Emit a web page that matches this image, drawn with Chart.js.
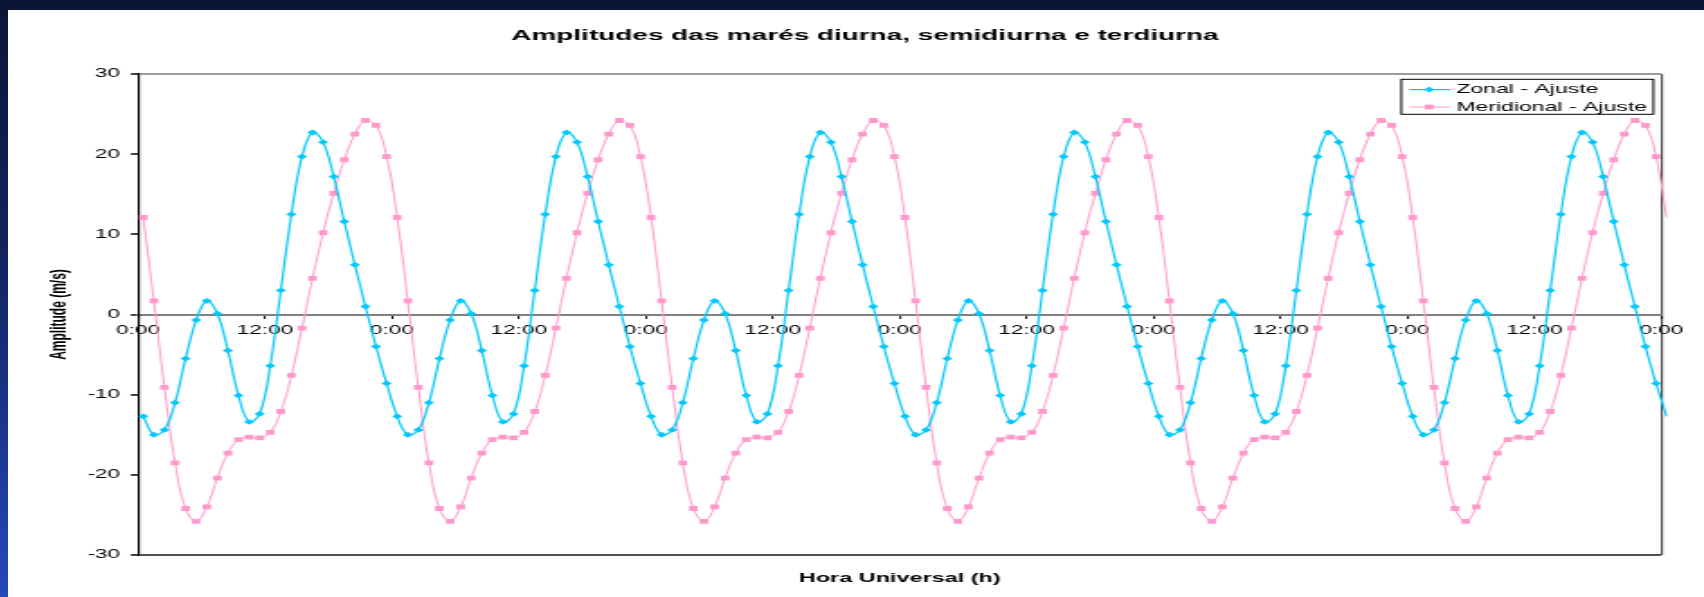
<!DOCTYPE html>
<html>
<head>
<meta charset="utf-8">
<script src="https://cdn.jsdelivr.net/npm/chart.js@4.4.1/dist/chart.umd.min.js"></script>
<style>
  html, body { margin: 0; padding: 0; }
  body {
    width: 1704px; height: 597px; overflow: hidden; position: relative;
    background: linear-gradient(to bottom, #0b1535 0%, #132463 45%, #2449bb 100%);
  }
  /* o gráfico original foi esticado na horizontal dentro do slide */
  #slide { position: absolute; left: 8px; top: 10px; width: 1696px; height: 587px; background: #fff; overflow: hidden; }
  #chart { position: absolute; left: 0; top: 0; transform: scaleX(1.80042); transform-origin: 0 0; }
</style>
</head>
<body>
<div id="slide"><canvas id="chart" width="942" height="587"></canvas></div>
<script>
/* ============================================
   Amplitudes das marés (ajuste) — Chart.js
   ============================================ */

const TITLE = 'Amplitudes das marés diurna, semidiurna e terdiurna';
const X_TITLE = 'Hora Universal (h)';
const Y_TITLE = 'Amplitude (m/s)';
const SERIES_NAMES = ['Zonal - Ajuste', 'Meridional - Ajuste'];

// horário de cada amostra dentro do dia (h)
const SAMPLE_HOURS = [0.5, 1.5, 2.5, 3.5, 4.5, 5.5, 6.5, 7.5, 8.5, 9.5, 10.5, 11.5,
                      12.5, 13.5, 14.5, 15.5, 16.5, 17.5, 18.5, 19.5, 20.5, 21.5, 22.5, 23.5];

// um dia de ajuste (m/s), repetido para cada dia do gráfico
const ZONAL_DAY = [-12.7, -15.0, -14.4, -11.0, -5.5, -0.7, 1.7, 0.1, -4.5, -10.1, -13.4, -12.4,
                   -6.4, 3.0, 12.5, 19.7, 22.7, 21.5, 17.2, 11.6, 6.2, 1.0, -4.0, -8.6];
const MERIDIONAL_DAY = [12.1, 1.7, -9.1, -18.5, -24.2, -25.8, -24.0, -20.4, -17.3, -15.6, -15.3, -15.4,
                        -14.7, -12.1, -7.6, -1.7, 4.5, 10.2, 15.1, 19.3, 22.5, 24.2, 23.6, 19.7];
const N_DAYS = 6;

const X_TICK_LABELS = ['0:00', '12:00', '0:00', '12:00', '0:00', '12:00', '0:00',
                       '12:00', '0:00', '12:00', '0:00', '12:00', '0:00'];

const CYAN = '#00c8fa';
const PINK = '#ff99cc';
const X_MAX = N_DAYS * 24;

function buildSeries(day) {
  const pts = [];
  for (let d = 0; d < N_DAYS; d++) {
    day.forEach((v, i) => pts.push({ x: d * 24 + SAMPLE_HOURS[i], y: v }));
  }
  // a curva segue um pouco além da borda direita (sem marcador)
  pts.push({ x: X_MAX + SAMPLE_HOURS[0], y: day[0] });
  return pts;
}

Chart.defaults.font.family = '"Liberation Sans", Arial, Helvetica, sans-serif';
Chart.defaults.color = '#000';

// ── Legenda com caixa, dentro da área do gráfico ──────────────────────────────
const boxLegend = {
  id: 'boxLegend',
  afterDraw(chart) {
    const ctx = chart.ctx;
    const L = 773.9, T = 69.3, W = 140, H = 35;
    ctx.save();
    ctx.fillStyle = '#fff';
    ctx.fillRect(L, T, W, H);
    ctx.strokeStyle = '#000';
    ctx.lineWidth = 1;
    ctx.strokeRect(L, T, W, H);
    chart.data.datasets.forEach((ds, i) => {
      const y = T + 10.3 + i * 17.4;
      ctx.strokeStyle = ds.borderColor;
      ctx.lineWidth = ds.borderWidth;
      ctx.beginPath();
      ctx.moveTo(L + 4.4, y);
      ctx.lineTo(L + 27.2, y);
      ctx.stroke();
      ctx.fillStyle = ds.pointBackgroundColor;
      Chart.helpers.drawPoint(ctx, { pointStyle: ds.pointStyle, radius: ds.markerSize, borderWidth: 0, rotation: 0 }, L + 15.5, y);
      ctx.fillStyle = '#000';
      ctx.font = '12.8px "Liberation Sans", Arial, sans-serif';
      ctx.textAlign = 'left';
      ctx.textBaseline = 'middle';
      ctx.fillText(ds.label, L + 30.5, y);
    });
    ctx.restore();
  }
};

function lineDataset(label, day, color, style, size, width) {
  return {
    label,
    data: buildSeries(day),
    xAxisID: 'x',
    yAxisID: 'y',
    borderColor: color,
    backgroundColor: color,
    pointBackgroundColor: color,
    pointBorderWidth: 0,
    pointStyle: style,
    markerSize: size,
    pointRadius: c => (c.raw && c.raw.x > X_MAX ? 0 : size),
    pointHoverRadius: size,
    borderWidth: width,
    tension: 0.4,
    fill: false,
    clip: { left: 0, top: 0, right: 3.5, bottom: 0 },
  };
}

new Chart(document.getElementById('chart'), {
  type: 'line',
  data: {
    datasets: [
      lineDataset(SERIES_NAMES[0], ZONAL_DAY, CYAN, 'rectRot', 2.9, 1.2),
      lineDataset(SERIES_NAMES[1], MERIDIONAL_DAY, PINK, 'rect', 3.4, 1.0),
    ],
  },
  options: {
    responsive: false,
    animation: false,
    events: [],
    layout: { padding: { left: 10, right: 0, top: 0, bottom: 0 } },
    plugins: {
      legend: { display: false },
      tooltip: { enabled: false },
      title: {
        display: true,
        text: TITLE,
        color: '#000',
        font: { size: 15.5, weight: 'bold' },
        padding: { top: 16.7, bottom: 28.7 },
      },
    },
    scales: {
      x: {
        type: 'linear',
        axis: 'x',
        min: 0,
        max: X_MAX,
        position: { y: 0 },
        grid: {
          color: c => (c.tick && c.tick.value === X_MAX ? '#4a4a4a' : 'rgba(0,0,0,0)'),
          lineWidth: 1.2,
          drawTicks: true,
          tickLength: 3,
          tickColor: '#000',
          tickWidth: 1,
        },
        border: { color: '#808080', width: 2 },
        ticks: {
          stepSize: 12,
          autoSkip: false,
          maxRotation: 0,
          padding: 6,
          font: { size: 12.5 },
          callback: v => X_TICK_LABELS[Math.round(v / 12)],
        },
      },
      x2: {
        type: 'linear',
        axis: 'x',
        position: 'bottom',
        min: 0,
        max: X_MAX,
        ticks: { display: false },
        grid: { display: false },
        border: { display: false },
        title: {
          display: true,
          text: X_TITLE,
          font: { size: 13, weight: 'bold' },
          padding: { top: 15.2, bottom: 11.2 },
        },
        afterFit: s => { s.height = 42; },
      },
      y: {
        type: 'linear',
        axis: 'y',
        position: 'left',
        min: -30,
        max: 30,
        ticks: { stepSize: 10, padding: 6, font: { size: 12.5 } },
        grid: {
          color: c => (!c.tick ? 'rgba(0,0,0,0)' : c.tick.value === 30 ? '#9a9a9a' : c.tick.value === -30 ? '#505050' : 'rgba(0,0,0,0)'),
          lineWidth: 2,
          drawTicks: true,
          tickLength: 4,
          tickColor: '#000',
          tickWidth: 1.5,
        },
        border: { color: '#000', width: 1.2 },
        title: {
          display: true,
          text: Y_TITLE,
          font: { size: 12, weight: 'bold' },
          padding: { top: 11.8, bottom: 0 },
        },
        afterFit: s => { s.width = 62.2; },
      },
      y2: {
        type: 'linear',
        axis: 'y',
        position: 'right',
        min: -30,
        max: 30,
        ticks: { display: false },
        grid: { display: false },
        border: { display: false },
        afterFit: s => { s.width = 23.7; },
      },
    },
  },
  plugins: [boxLegend],
});
</script>
</body>
</html>
